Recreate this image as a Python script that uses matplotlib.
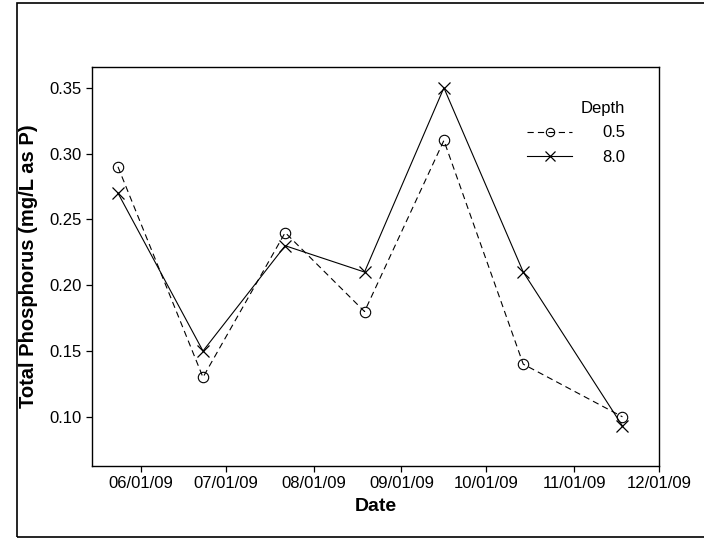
import matplotlib
matplotlib.use("Agg")
import matplotlib.pyplot as plt
import matplotlib.dates as mdates
from matplotlib.patches import Rectangle
import pandas as pd

plt.rcParams["font.family"] = ["Liberation Sans", "DejaVu Sans"]
plt.rcParams["lines.scale_dashes"] = False

# sample dates
dates = pd.to_datetime(["2009-05-24", "2009-06-23", "2009-07-22", "2009-08-19",
                        "2009-09-16", "2009-10-14", "2009-11-18"])
tp_05 = [0.29, 0.13, 0.24, 0.18, 0.31, 0.14, 0.10]
tp_80 = [0.27, 0.15, 0.23, 0.21, 0.35, 0.21, 0.093]
depth_labels = ["0.5", "8.0"]
tick_dates = pd.date_range("2009-06-01", "2009-12-01", freq="MS")
y_ticks = [0.10, 0.15, 0.20, 0.25, 0.30, 0.35]

fig = plt.figure(figsize=(7.04, 5.4), dpi=100)
ax = fig.add_axes([0.1303, 0.137, 0.8062, 0.7384])

ax.plot(dates, tp_05, color="black", lw=0.8, dashes=(4.5, 3), marker="o",
        ms=7.5, mfc="none", mec="black", mew=0.8, label=depth_labels[0])
ax.plot(dates, tp_80, color="black", lw=0.8, marker="x", ms=9, mew=0.9,
        label=depth_labels[1])

ax.set_xlim(pd.Timestamp("2009-05-14 18:00"), pd.Timestamp("2009-12-01"))
ax.set_ylim(0.0626, 0.3656)
ax.set_xticks(tick_dates)
ax.xaxis.set_major_formatter(mdates.DateFormatter("%m/%d/%y"))
ax.set_yticks(y_ticks)
ax.yaxis.set_major_formatter(plt.FormatStrFormatter("%.2f"))
ax.tick_params(labelsize=12, length=4.5, width=0.9, pad=3)

for s in ax.spines.values():
    s.set_linewidth(1.0)

ax.set_xlabel("Date", fontsize=14, fontweight="bold", labelpad=5)
ax.set_ylabel("Total Phosphorus (mg/L as P)", fontsize=14.5, fontweight="bold",
              labelpad=8)

leg = ax.legend(title="Depth", loc="upper left", bbox_to_anchor=(0.767, 0.915),
                frameon=False, fontsize=12, title_fontsize=12, borderpad=0,
                borderaxespad=0, handlelength=2.7, handletextpad=1.8,
                labelspacing=0.55, alignment="right", markerscale=0.8)

# outer frame around the whole picture
fig.patches.append(Rectangle((17 / 704, 3 / 540), 1.0, 534 / 540,
                             transform=fig.transFigure, fill=False,
                             lw=1.2, ec="black"))

fig.savefig("out.png", dpi=100)
